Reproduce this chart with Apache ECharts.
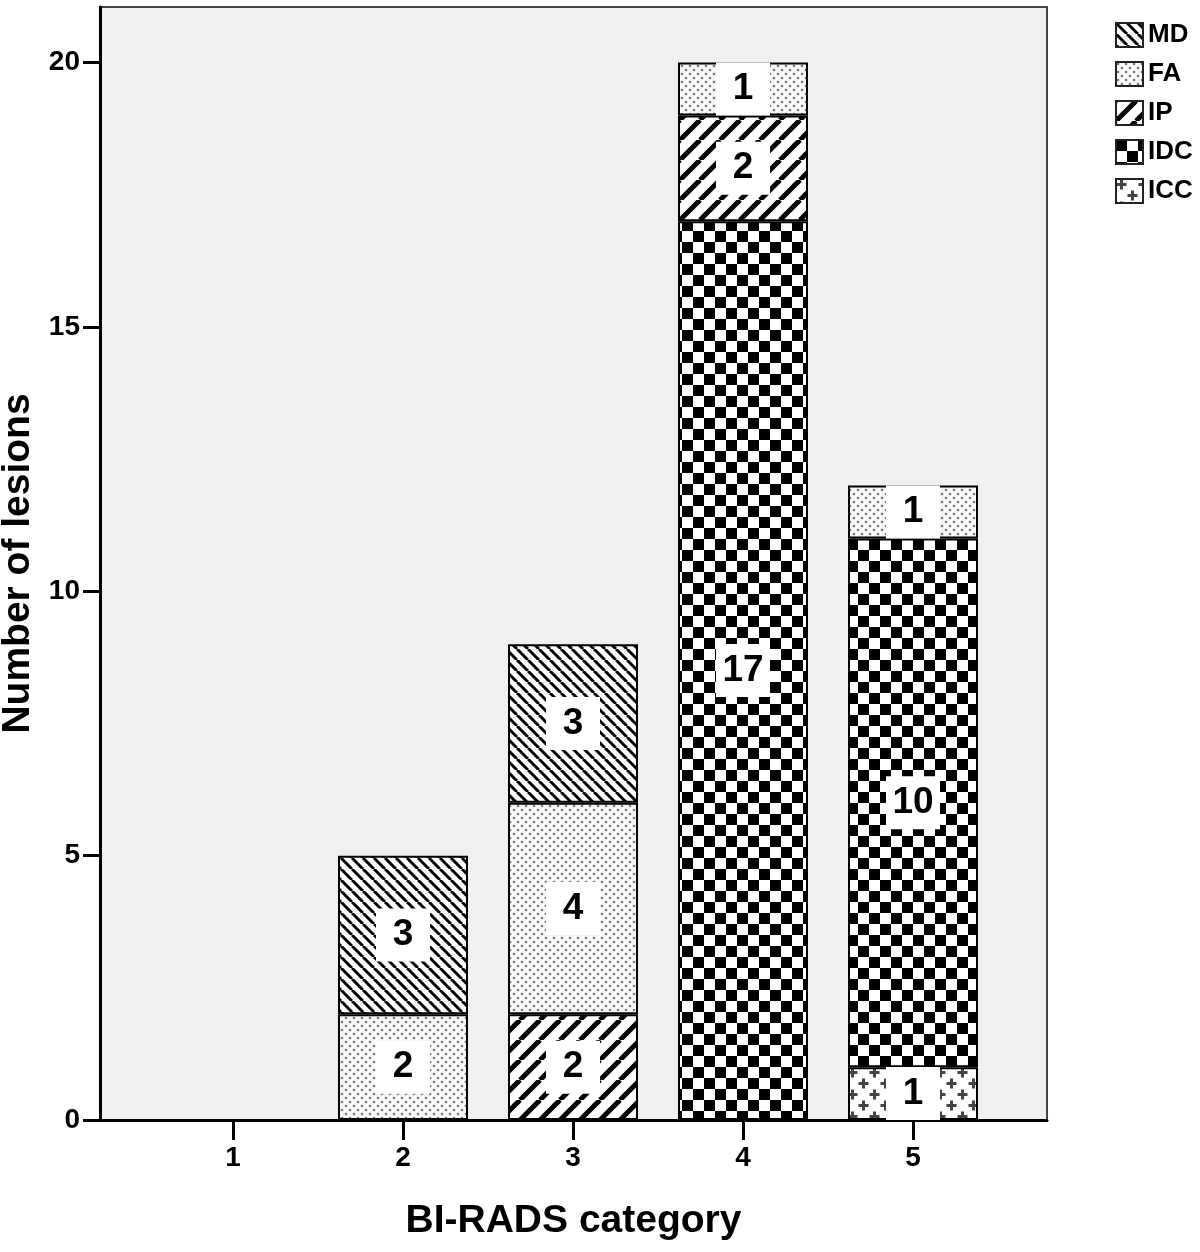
<!DOCTYPE html>
<html>
<head>
<meta charset="utf-8">
<script src="https://cdn.jsdelivr.net/npm/echarts@6/dist/echarts.min.js"></script>
<style>
  html, body { margin: 0; background: #fff; }
  #chart { width: 1200px; height: 1252px; }
</style>
</head>
<body>
<div id="chart"></div>
<script>
// BI-RADS categories and lesion counts per histology
const categories = ['1', '2', '3', '4', '5'];
const md  = [null, 3, 3, null, null];
const fa  = [null, 2, 4, 1, 1];
const ip  = [null, null, 2, 2, null];
const idc = [null, null, null, 17, 10];
const icc = [null, null, null, null, 1];
const yTicks = [0, 5, 10, 15, 20];
const legendOrder = ['MD', 'FA', 'IP', 'IDC', 'ICC'];

const FONT = "'Liberation Sans', Arial, sans-serif";
const Y_MAX = 21.05;

// small canvas tiles used as fill patterns
function tile(size, draw, bg) {
  const c = document.createElement('canvas');
  c.width = size;
  c.height = size;
  const ctx = c.getContext('2d');
  ctx.fillStyle = bg || '#fff';
  ctx.fillRect(0, 0, size, size);
  draw(ctx, size);
  return { image: c, repeat: 'repeat' };
}

function hatch(size, width, dir) {
  return tile(size, (ctx, s) => {
    ctx.strokeStyle = '#000';
    ctx.lineWidth = width;
    for (const o of [-s, 0, s]) {
      ctx.beginPath();
      if (dir > 0) { ctx.moveTo(o, s); ctx.lineTo(o + s, 0); }
      else { ctx.moveTo(o, 0); ctx.lineTo(o + s, s); }
      ctx.stroke();
    }
  });
}

const mdPat = hatch(11, 3, -1);
const ipPat = hatch(20, 5, 1);
const faPat = tile(8, (ctx) => {
  ctx.fillStyle = '#7a7a7a';
  for (const [x, y] of [[2, 2], [6, 6]]) {
    ctx.beginPath();
    ctx.arc(x, y, 1.3, 0, Math.PI * 2);
    ctx.fill();
  }
}, '#f7f7f7');
const idcPat = tile(22, (ctx) => {
  ctx.fillStyle = '#000';
  ctx.fillRect(0, 0, 11, 11);
  ctx.fillRect(11, 11, 11, 11);
});
const iccPat = tile(22, (ctx) => {
  ctx.strokeStyle = '#444';
  ctx.lineWidth = 3;
  for (const [x, y] of [[5.5, 5.5], [16.5, 16.5]]) {
    ctx.beginPath();
    ctx.moveTo(x - 5, y); ctx.lineTo(x + 5, y);
    ctx.moveTo(x, y - 5); ctx.lineTo(x, y + 5);
    ctx.stroke();
  }
});

// stacked bottom -> top
const stackDefs = [
  { name: 'ICC', data: icc, color: iccPat },
  { name: 'IDC', data: idc, color: idcPat },
  { name: 'IP',  data: ip,  color: ipPat },
  { name: 'FA',  data: fa,  color: faPat },
  { name: 'MD',  data: md,  color: mdPat }
];

const titleStyle = { fontFamily: FONT, fontSize: 39, fontWeight: 'bold', color: '#000' };
const tickFont = { fontFamily: FONT, fontSize: 28, fontWeight: 'bold', color: '#000' };

const option = {
  animation: false,
  grid: [
    // outer frame with the y axis
    {
      left: 100, right: 153, top: 7, bottom: 132,
      outerBoundsMode: 'none',
      show: true,
      backgroundColor: '#f0f0f0',
      borderColor: '#444',
      borderWidth: 2
    },
    // inner band that holds the categories
    { left: 148, right: 202, top: 7, bottom: 132, outerBoundsMode: 'none' }
  ],
  legend: {
    data: legendOrder,
    orient: 'vertical',
    left: 1110,
    top: 17,
    itemWidth: 27,
    itemHeight: 24,
    itemGap: 13,
    icon: 'rect',
    selectedMode: false,
    itemStyle: { borderColor: '#222', borderWidth: 2 },
    textStyle: { fontFamily: FONT, fontSize: 26, fontWeight: 'bold', color: '#000' }
  },
  xAxis: [
    {
      gridIndex: 0,
      type: 'value',
      min: 0,
      max: 1,
      name: 'BI-RADS category',
      nameLocation: 'middle',
      nameGap: 82,
      nameTextStyle: titleStyle,
      splitLine: { show: false },
      axisLine: { show: true, lineStyle: { color: '#000', width: 3 } },
      axisTick: { show: false },
      axisLabel: { show: false }
    },
    {
      gridIndex: 1,
      type: 'category',
      data: categories,
      axisLine: { show: false },
      axisTick: { show: true, alignWithLabel: true, length: 20, lineStyle: { color: '#000', width: 3 } },
      axisLabel: Object.assign({ margin: 24 }, tickFont)
    }
  ],
  yAxis: [
    {
      gridIndex: 0,
      type: 'value',
      min: 0,
      max: Y_MAX,
      interval: 5,
      name: 'Number of lesions',
      nameLocation: 'middle',
      nameGap: 55,
      nameTextStyle: titleStyle,
      splitLine: { show: false },
      axisLine: { show: true, lineStyle: { color: '#000', width: 3 } },
      axisTick: { show: true, length: 17, customValues: yTicks, lineStyle: { color: '#000', width: 3 } },
      axisLabel: Object.assign({ customValues: yTicks, margin: 20 }, tickFont)
    },
    {
      gridIndex: 1,
      type: 'value',
      min: 0,
      max: Y_MAX,
      show: false,
      splitLine: { show: false }
    }
  ],
  series: stackDefs.map(d => ({
    name: d.name,
    type: 'bar',
    stack: 'total',
    xAxisIndex: 1,
    yAxisIndex: 1,
    barWidth: 130,
    data: d.data,
    itemStyle: { color: d.color, borderColor: '#000', borderWidth: 2 },
    emphasis: { disabled: true },
    label: {
      show: true,
      position: 'inside',
      fontFamily: FONT,
      fontSize: 37,
      fontWeight: 'bold',
      color: '#000',
      backgroundColor: '#fff',
      width: 42,
      align: 'center',
      padding: [8, 6]
    }
  }))
};

const myChart = echarts.init(document.getElementById('chart'));
myChart.setOption(option);
</script>
</body>
</html>
